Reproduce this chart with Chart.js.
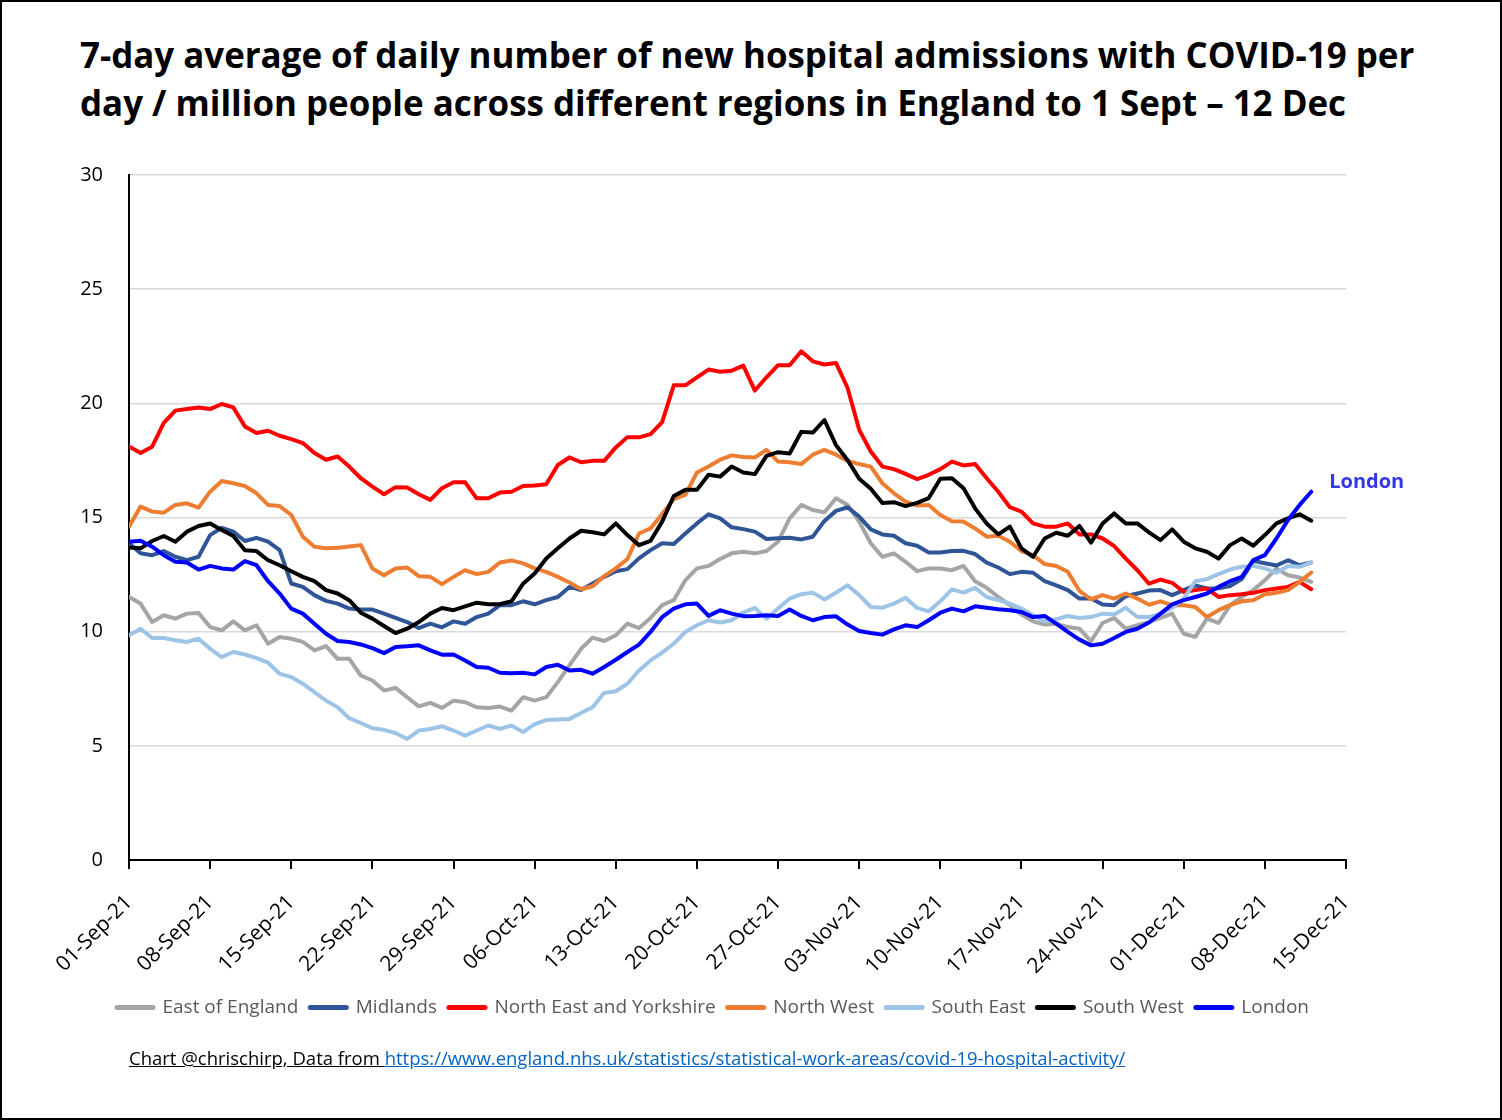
<!DOCTYPE html>
<html>
<head>
<meta charset="utf-8">
<script src="https://cdn.jsdelivr.net/npm/chart.js@4.4.1/dist/chart.umd.min.js"></script>
<style>
  html, body { margin: 0; padding: 0; background: #fff; }
  #page { position: relative; width: 1502px; height: 1120px; background: #fff; overflow: hidden; }
  #border { position: absolute; left: 0; top: 0; width: 1502px; height: 1120px; box-sizing: border-box; border: 2px solid #000; pointer-events: none; }
  #title { position: absolute; left: 80px; top: 31px; font-family: "Open Sans", Lato, sans-serif; font-weight: 700; font-size: 34.9px; line-height: 48px; color: #000; white-space: nowrap; }
  #footer { position: absolute; left: 129px; top: 1045px; font-family: "Open Sans", Lato, sans-serif; font-size: 18.5px; color: #000; white-space: nowrap; }
  #footer span { text-decoration: underline; }
  #footer a { color: #0563c1; text-decoration: underline; }
  canvas { position: absolute; left: 0; top: 0; }
</style>
</head>
<body>
<div id="page">
  <div id="title">7-day average of daily number of new hospital admissions with COVID-19 per<br>day / million people across different regions in England to 1 Sept – 12 Dec</div>
  <canvas id="c" width="1502" height="1120"></canvas>
  <div id="footer"><span>Chart @chrischirp, Data from </span><a href="https://www.england.nhs.uk/statistics/statistical-work-areas/covid-19-hospital-activity/">https://www.england.nhs.uk/statistics/statistical-work-areas/covid-19-hospital-activity/</a></div>
  <div id="border"></div>
</div>
<script>
// Day index 0 = 01-Sep-21 ... 102 = 12-Dec-21
const xTickLabels = ["01-Sep-21","08-Sep-21","15-Sep-21","22-Sep-21","29-Sep-21","06-Oct-21","13-Oct-21","20-Oct-21","27-Oct-21","03-Nov-21","10-Nov-21","17-Nov-21","24-Nov-21","01-Dec-21","08-Dec-21","15-Dec-21"];
const yTickValues = [0, 5, 10, 15, 20, 25, 30];

const seriesNames = ["East of England","Midlands","North East and Yorkshire","North West","South East","South West","London"];

const eastOfEngland = [11.52,11.23,10.42,10.72,10.57,10.79,10.82,10.2,10.06,10.45,10.06,10.28,9.47,9.77,9.69,9.55,9.18,9.37,8.81,8.81,8.08,7.86,7.42,7.54,7.13,6.73,6.88,6.66,6.98,6.91,6.69,6.66,6.72,6.54,7.13,6.98,7.13,7.79,8.52,9.25,9.74,9.59,9.84,10.35,10.16,10.6,11.16,11.38,12.25,12.77,12.88,13.18,13.43,13.5,13.43,13.53,13.94,14.96,15.55,15.33,15.23,15.84,15.55,14.82,13.87,13.28,13.43,13.06,12.65,12.77,12.77,12.69,12.88,12.21,11.92,11.52,11.16,10.75,10.45,10.31,10.35,10.2,10.13,9.58,10.38,10.6,10.13,10.28,10.42,10.6,10.79,9.91,9.77,10.57,10.38,11.16,11.52,11.82,12.25,12.77,12.47,12.37,12.18];

const midlands = [13.87,13.43,13.35,13.53,13.28,13.13,13.28,14.23,14.55,14.38,13.97,14.11,13.94,13.57,12.11,11.96,11.6,11.35,11.23,11.01,10.97,10.97,10.79,10.6,10.42,10.16,10.35,10.19,10.45,10.35,10.64,10.79,11.16,11.16,11.33,11.2,11.38,11.52,11.96,11.82,12.11,12.4,12.65,12.74,13.21,13.57,13.87,13.84,14.3,14.74,15.14,14.96,14.57,14.49,14.38,14.06,14.09,14.11,14.04,14.16,14.85,15.29,15.45,15.04,14.48,14.26,14.2,13.87,13.76,13.47,13.47,13.53,13.54,13.4,13.02,12.81,12.52,12.62,12.58,12.21,12.03,11.82,11.45,11.45,11.19,11.16,11.55,11.67,11.8,11.82,11.6,11.82,12.03,11.89,11.9,12.0,12.3,13.1,13.0,12.9,13.13,12.91,13.03];

const northEastYorkshire = [18.11,17.82,18.1,19.14,19.68,19.75,19.82,19.75,19.97,19.82,18.99,18.7,18.8,18.58,18.43,18.26,17.82,17.53,17.67,17.23,16.72,16.35,16.02,16.33,16.31,16.02,15.77,16.28,16.54,16.54,15.84,15.84,16.09,16.13,16.38,16.4,16.46,17.3,17.63,17.42,17.48,17.48,18.07,18.52,18.51,18.65,19.18,20.79,20.79,21.14,21.48,21.38,21.43,21.65,20.56,21.14,21.67,21.67,22.28,21.84,21.7,21.77,20.67,18.84,17.89,17.23,17.12,16.91,16.68,16.87,17.12,17.45,17.28,17.34,16.72,16.13,15.45,15.26,14.74,14.6,14.6,14.74,14.26,14.26,14.08,13.75,13.2,12.69,12.1,12.28,12.14,11.74,11.82,11.89,11.52,11.6,11.64,11.7,11.82,11.89,11.96,12.18,11.86];

const northWest = [14.6,15.48,15.26,15.21,15.55,15.62,15.43,16.13,16.6,16.5,16.38,16.06,15.55,15.5,15.11,14.16,13.72,13.65,13.67,13.73,13.79,12.77,12.47,12.77,12.81,12.43,12.4,12.08,12.4,12.69,12.52,12.62,13.03,13.12,12.99,12.77,12.62,12.4,12.15,11.86,11.99,12.43,12.77,13.18,14.3,14.52,15.15,15.81,15.99,16.97,17.23,17.53,17.72,17.65,17.63,17.96,17.45,17.42,17.34,17.75,17.96,17.75,17.48,17.34,17.23,16.5,16.06,15.7,15.52,15.55,15.11,14.84,14.82,14.52,14.16,14.2,13.94,13.53,13.35,12.96,12.88,12.62,11.79,11.42,11.6,11.45,11.67,11.45,11.18,11.33,11.16,11.16,11.08,10.64,10.94,11.16,11.33,11.38,11.64,11.7,11.82,12.18,12.59];

const southEast = [9.84,10.13,9.72,9.72,9.62,9.55,9.69,9.25,8.89,9.11,9.0,8.84,8.64,8.16,8.01,7.72,7.35,6.98,6.69,6.21,6.0,5.77,5.7,5.56,5.3,5.67,5.74,5.86,5.67,5.45,5.67,5.89,5.74,5.89,5.6,5.95,6.13,6.15,6.18,6.44,6.69,7.32,7.39,7.72,8.3,8.74,9.08,9.47,9.99,10.28,10.5,10.4,10.5,10.84,11.04,10.57,11.01,11.45,11.64,11.71,11.41,11.71,12.03,11.6,11.08,11.05,11.23,11.48,11.04,10.89,11.33,11.85,11.71,11.92,11.52,11.38,11.23,11.01,10.72,10.45,10.54,10.69,10.6,10.64,10.79,10.75,11.05,10.64,10.64,10.79,11.05,11.45,12.21,12.3,12.52,12.72,12.84,12.88,12.77,12.58,12.88,12.84,13.03];

const southWest = [13.69,13.65,13.97,14.19,13.94,14.38,14.63,14.74,14.45,14.19,13.57,13.53,13.13,12.91,12.65,12.4,12.21,11.82,11.67,11.38,10.83,10.57,10.25,9.94,10.13,10.42,10.79,11.04,10.94,11.11,11.27,11.2,11.2,11.33,12.1,12.55,13.2,13.65,14.08,14.42,14.35,14.26,14.74,14.23,13.79,13.98,14.82,15.94,16.21,16.21,16.87,16.79,17.23,16.97,16.9,17.7,17.86,17.8,18.75,18.72,19.27,18.17,17.51,16.7,16.26,15.63,15.67,15.5,15.64,15.85,16.7,16.72,16.28,15.4,14.74,14.26,14.6,13.65,13.28,14.08,14.33,14.2,14.63,13.9,14.74,15.18,14.74,14.74,14.35,14.01,14.48,13.94,13.65,13.5,13.2,13.79,14.08,13.76,14.23,14.74,14.96,15.14,14.86];

const london = [13.94,13.98,13.72,13.35,13.06,13.03,12.72,12.88,12.77,12.72,13.09,12.91,12.21,11.67,11.01,10.79,10.35,9.91,9.59,9.55,9.44,9.28,9.06,9.33,9.36,9.4,9.18,8.99,9.0,8.74,8.45,8.42,8.2,8.18,8.2,8.13,8.45,8.55,8.3,8.33,8.16,8.45,8.77,9.11,9.43,9.99,10.64,11.01,11.2,11.23,10.69,10.94,10.79,10.68,10.69,10.72,10.69,10.97,10.69,10.5,10.64,10.67,10.31,10.03,9.94,9.87,10.1,10.28,10.2,10.5,10.83,11.01,10.89,11.11,11.05,10.98,10.94,10.86,10.64,10.69,10.35,9.99,9.65,9.4,9.47,9.72,9.99,10.13,10.4,10.79,11.2,11.38,11.52,11.67,11.96,12.21,12.4,13.13,13.35,14.08,14.89,15.55,16.13];

const seriesValues = [eastOfEngland, midlands, northEastYorkshire, northWest, southEast, southWest, london];
const seriesColors = ["#a5a5a5", "#2f5597", "#ff0000", "#ed7d31", "#9dc3e6", "#000000", "#0000ff"];

const FONT = "'Open Sans', Lato, sans-serif";

const datasets = seriesNames.map((name, i) => ({
  label: name,
  data: seriesValues[i].map((v, d) => ({ x: d, y: v })),
  borderColor: seriesColors[i],
  backgroundColor: seriesColors[i],
  borderWidth: 4,
  pointRadius: 0,
  pointHoverRadius: 0,
  tension: 0,
  borderJoinStyle: 'round',
  borderCapStyle: 'round',
  order: seriesNames.length - 1 - i
}));

const londonLabel = {
  id: 'londonLabel',
  afterDatasetsDraw(chart) {
    const idx = seriesNames.indexOf("London");
    const meta = chart.getDatasetMeta(idx);
    const pt = meta.data[meta.data.length - 1];
    if (!pt) return;
    const ctx = chart.ctx;
    ctx.save();
    ctx.font = "bold 20px " + FONT;
    ctx.fillStyle = "#3535ee";
    ctx.textAlign = "left";
    ctx.textBaseline = "middle";
    ctx.fillText("London", pt.x + 18, pt.y - 9);
    ctx.restore();
  }
};

new Chart(document.getElementById('c'), {
  type: 'line',
  data: { datasets },
  plugins: [londonLabel],
  options: {
    responsive: false,
    animation: false,
    devicePixelRatio: 1,
    layout: { padding: { left: 80, right: 156, top: 175, bottom: 93 } },
    plugins: {
      title: { display: false },
      tooltip: { enabled: false },
      legend: {
        position: 'bottom',
        labels: {
          usePointStyle: true,
          pointStyleWidth: 36,
          boxHeight: 19,
          padding: 12,
          color: '#595959',
          font: { family: FONT, size: 19 },
          generateLabels(chart) {
            return chart.data.datasets.map((ds, i) => ({
              text: ds.label,
              fillStyle: ds.borderColor,
              strokeStyle: ds.borderColor,
              fontColor: '#595959',
              lineWidth: 5,
              lineCap: 'round',
              pointStyle: 'line',
              hidden: false,
              datasetIndex: i
            }));
          }
        }
      }
    },
    scales: {
      x: {
        type: 'linear',
        min: 0,
        max: (xTickLabels.length - 1) * 7,
        afterFit(scale) { scale.height = 126; },
        afterBuildTicks(scale) { scale.ticks = xTickLabels.map((_, k) => ({ value: k * 7 })); },
        ticks: {
          autoSkip: false,
          maxRotation: 45,
          minRotation: 45,
          padding: 21,
          color: '#000',
          font: { family: FONT, size: 21 },
          callback(v) { return xTickLabels[Math.round(v / 7)]; }
        },
        grid: { drawOnChartArea: false, drawTicks: true, tickLength: 9, color: '#000', lineWidth: 2 },
        border: { color: '#000', width: 2 }
      },
      y: {
        min: 0,
        max: 30,
        afterFit(scale) { scale.width = 49; },
        afterBuildTicks(scale) { scale.ticks = yTickValues.map(v => ({ value: v })); },
        ticks: { padding: 26, color: '#000', font: { family: FONT, size: 20 } },
        grid: { drawTicks: false, color: '#d9d9d9', lineWidth: 1.5 },
        border: { color: '#000', width: 2 }
      }
    }
  }
});
</script>
</body>
</html>
